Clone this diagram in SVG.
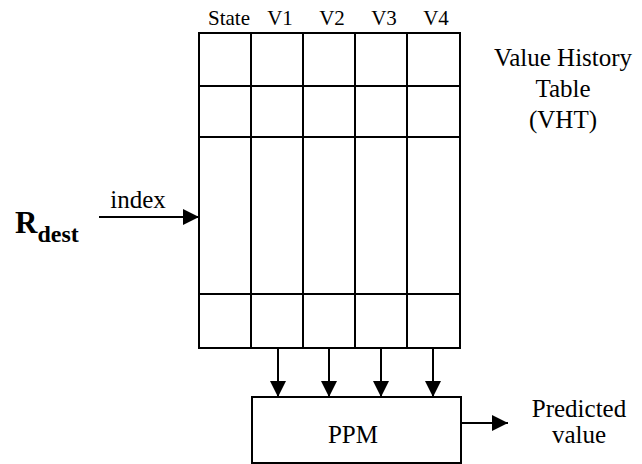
<svg xmlns="http://www.w3.org/2000/svg" width="642" height="464" viewBox="0 0 642 464">
<defs>
<style>
text{font-family:"Liberation Serif","Times New Roman",serif;fill:#000;}
.t{font-size:25px;}
.h{font-size:21px;}
.ln{stroke:#000;stroke-width:2;fill:none;}
</style>
<marker id="ah" viewBox="0 0 16 16" refX="16" refY="8" markerWidth="16" markerHeight="16" markerUnits="userSpaceOnUse" orient="auto">
<path d="M0,0 L16,8 L0,16 Z" fill="#000"/>
</marker>
</defs>
<rect width="642" height="464" fill="#fff"/>
<g id="vht">
<rect class="ln" x="199" y="33" width="261" height="315"/>
<line class="ln" x1="251" y1="33" x2="251" y2="348"/>
<line class="ln" x1="303" y1="33" x2="303" y2="348"/>
<line class="ln" x1="355" y1="33" x2="355" y2="348"/>
<line class="ln" x1="407" y1="33" x2="407" y2="348"/>
<line class="ln" x1="199" y1="86" x2="460" y2="86"/>
<line class="ln" x1="199" y1="137" x2="460" y2="137"/>
<line class="ln" x1="199" y1="294" x2="460" y2="294"/>
<g text-anchor="middle" class="h">
<text x="229" y="25">State</text>
<text x="280" y="25">V1</text>
<text x="332" y="25">V2</text>
<text x="384" y="25">V3</text>
<text x="436" y="25">V4</text>
</g>
<g text-anchor="middle" class="t">
<text x="563" y="66">Value History</text>
<text x="563" y="97">Table</text>
<text x="563" y="128">(VHT)</text>
</g>
</g>
<g id="ppm">
<rect class="ln" x="252" y="397" width="209" height="66"/>
<text class="t" x="353" y="443" text-anchor="middle">PPM</text>
</g>
<g id="rdest">
<text x="15" y="233" font-weight="bold" font-size="31">R<tspan font-size="24" dy="9">dest</tspan></text>
</g>
<g id="predicted">
<text class="t" x="579" y="417" text-anchor="middle">Predicted</text>
<text class="t" x="579" y="443" text-anchor="middle">value</text>
</g>
<g id="connectors">
<line class="ln" x1="99" y1="217" x2="199" y2="217" marker-end="url(#ah)"/>
<text class="t" x="138" y="208" text-anchor="middle">index</text>
<line class="ln" x1="278" y1="348" x2="278" y2="397" marker-end="url(#ah)"/>
<line class="ln" x1="329" y1="348" x2="329" y2="397" marker-end="url(#ah)"/>
<line class="ln" x1="381" y1="348" x2="381" y2="397" marker-end="url(#ah)"/>
<line class="ln" x1="433" y1="348" x2="433" y2="397" marker-end="url(#ah)"/>
<line class="ln" x1="461" y1="423" x2="508" y2="423" marker-end="url(#ah)"/>
</g>
</svg>
